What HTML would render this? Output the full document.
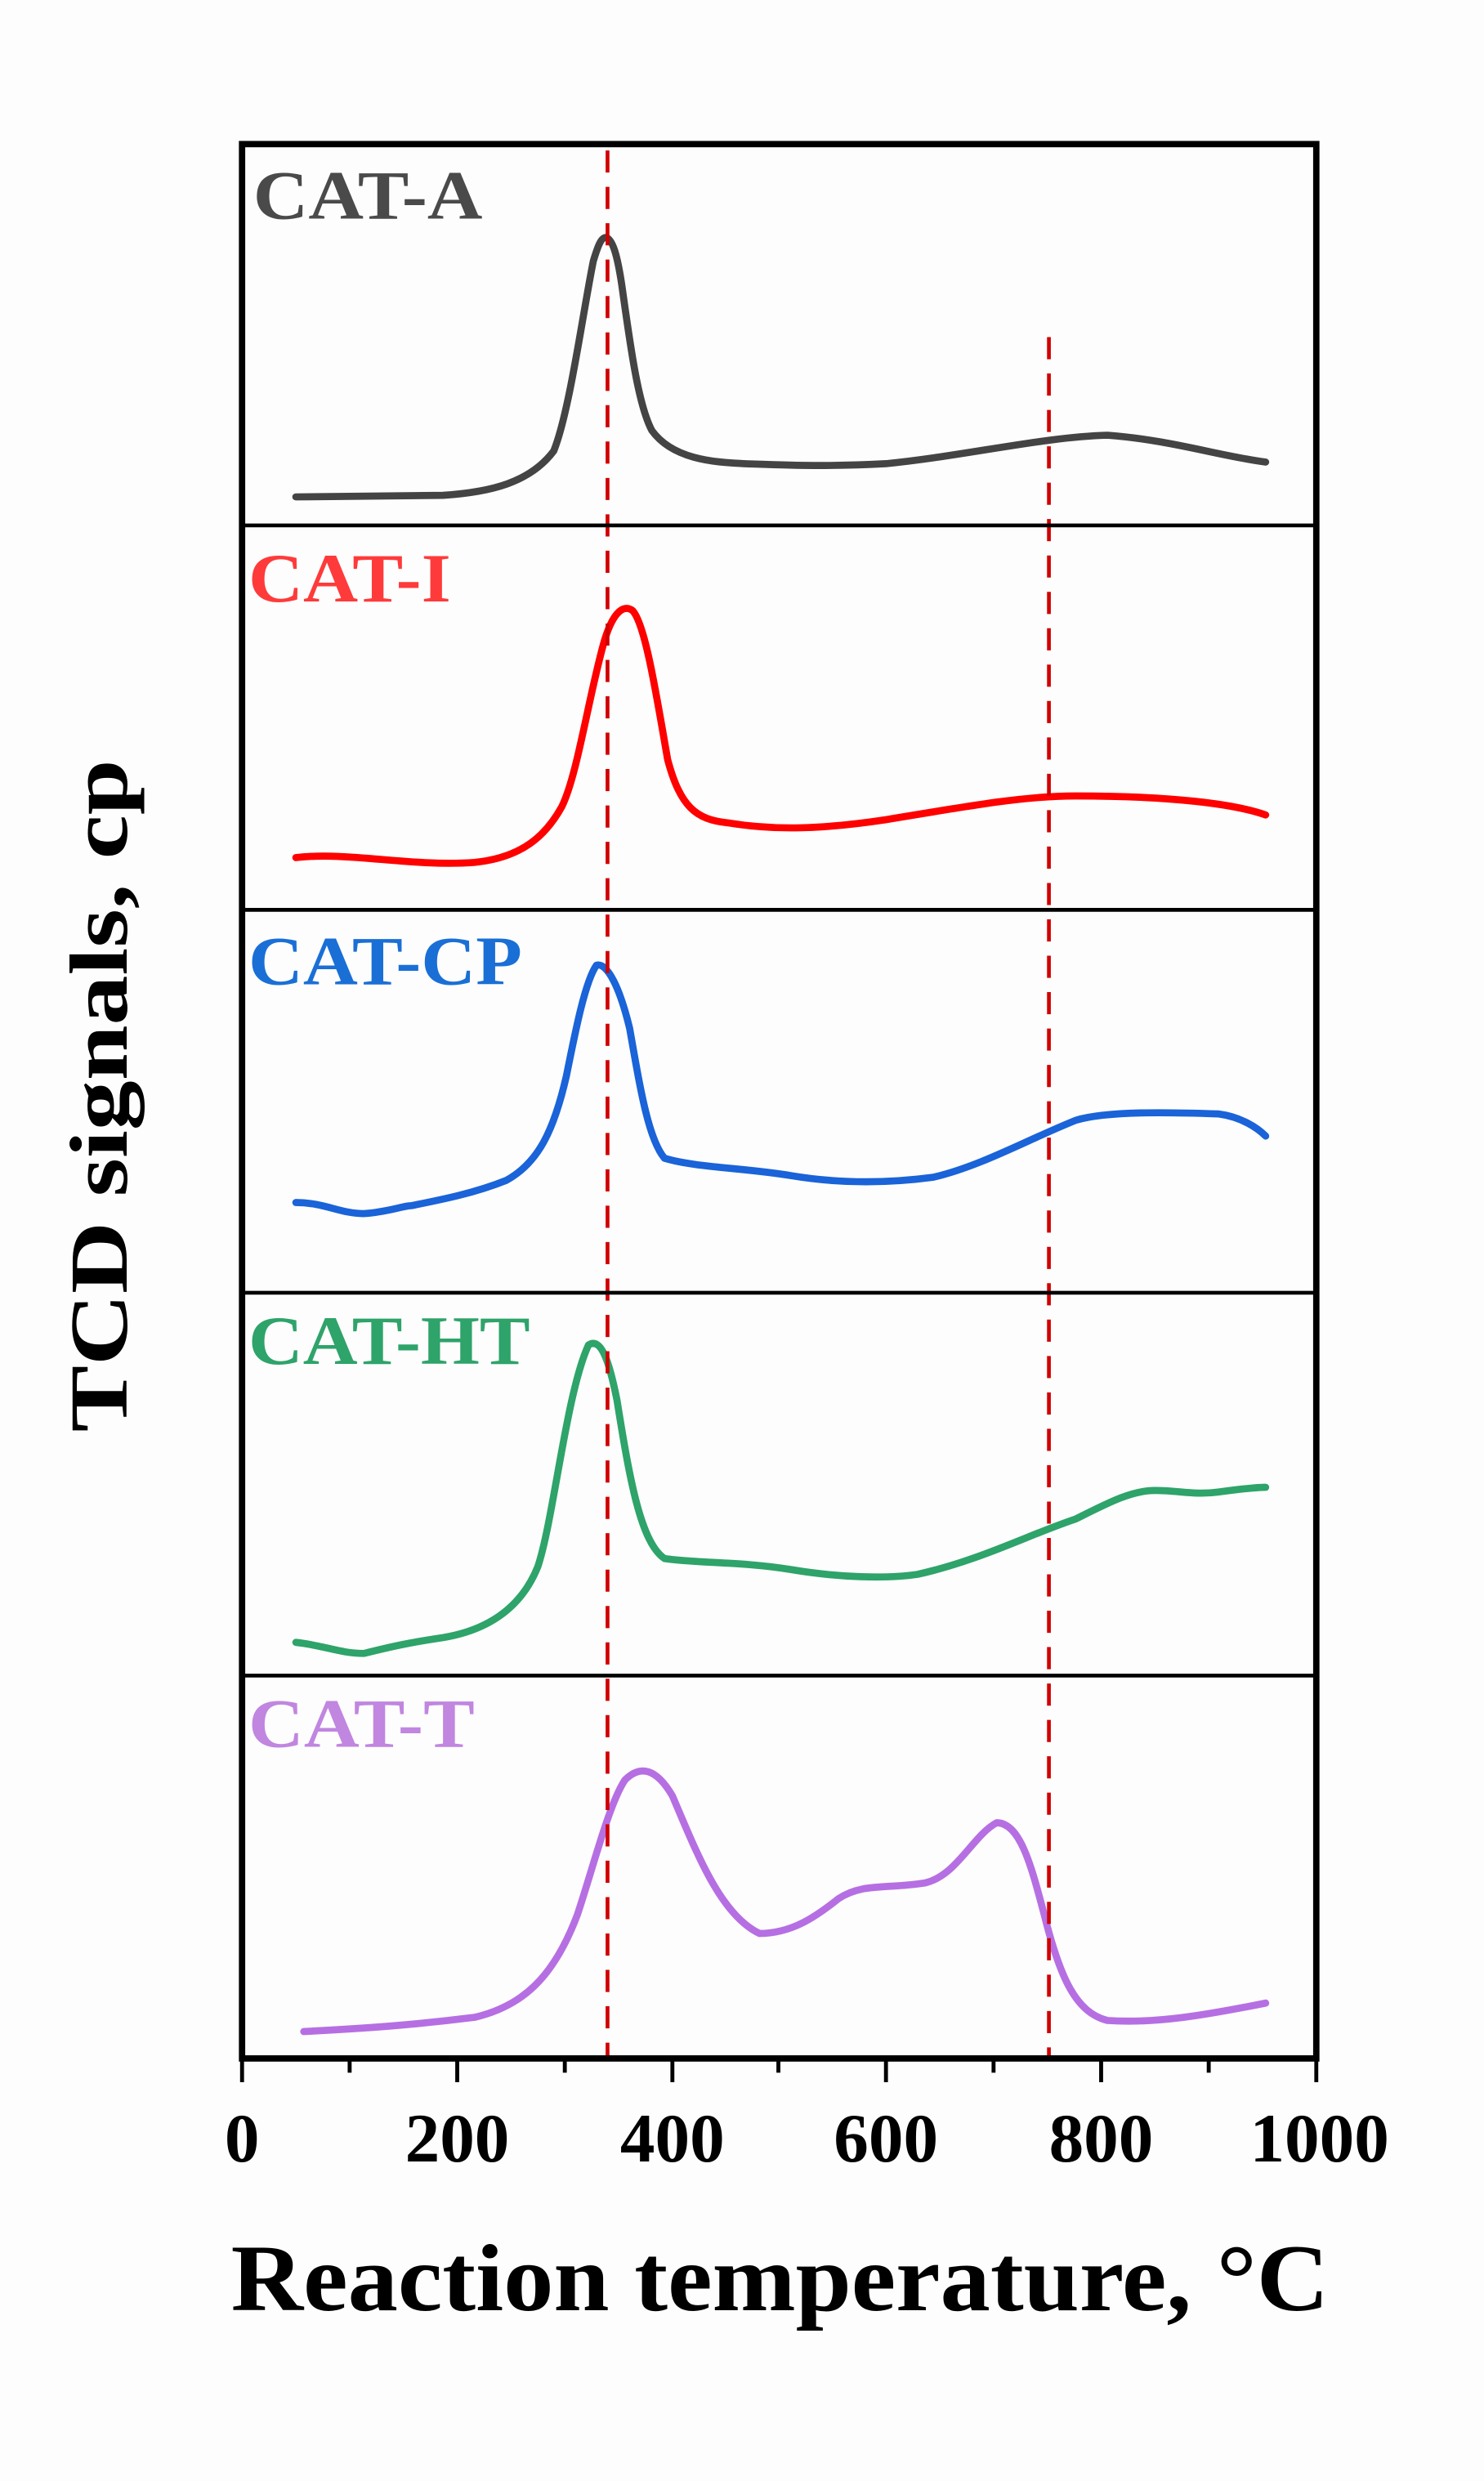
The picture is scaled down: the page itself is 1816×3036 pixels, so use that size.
<!DOCTYPE html>
<html><head><meta charset="utf-8"><style>html,body{margin:0;padding:0;background:#fff}svg{display:block}</style></head>
<body>
<svg width="1816" height="3036" viewBox="0 0 938 1568" xmlns="http://www.w3.org/2000/svg">
<rect width="938" height="1568" fill="#fdfdfd"/>
<g fill="none" stroke-linejoin="round" stroke-linecap="round" stroke-width="4.5">
<path stroke="#444" d="M187,314 L280,313 C310,311 335,305 350,285 C360,260 368,200 375,165 C378,155 380,150 383,150 C387,151 390,160 393,180 C398,215 403,255 412,272 C425,290 450,292 470,293 C500,294 520,295 560,293 C610,288 660,276 700,275 C740,278 770,288 800,292"/>
<path stroke="#f00" d="M187,542 C220,538 260,548 300,545 C330,542 345,528 355,510 C365,490 372,440 382,405 C388,385 395,382 400,386 C408,395 415,440 422,480 C430,510 440,518 460,520 C490,525 520,524 560,518 C620,508 650,503 680,503 C740,503 780,508 800,515"/>
<path stroke="#1a63d8" d="M187,760 C205,760 215,767 230,767 C245,766 255,762 260,762 C280,758 300,754 320,746 C340,735 350,715 358,680 C364,650 370,620 377,610 C384,608 392,625 398,650 C405,690 410,720 420,732 C440,738 470,738 500,743 C530,748 560,748 590,744 C620,737 650,720 680,708 C700,702 740,703 770,704 C785,706 795,713 800,718"/>
<path stroke="#2ea36a" d="M187,1038 C205,1040 215,1045 230,1045 C250,1040 260,1038 280,1035 C310,1030 330,1015 340,990 C350,960 358,880 372,850 C380,845 385,860 390,885 C398,935 405,975 420,985 C440,988 470,987 500,992 C530,997 560,998 580,995 C620,986 650,970 680,960 C700,950 715,942 730,942 C745,942 755,945 770,943 C785,941 795,940 800,940"/>
<path stroke="#b66fe2" d="M192,1284 C230,1282 260,1280 300,1275 C330,1268 350,1250 365,1210 C375,1180 385,1140 395,1125 C405,1115 415,1118 425,1135 C440,1170 455,1210 480,1222 C500,1222 515,1212 530,1200 C545,1190 560,1194 585,1190 C605,1185 615,1160 630,1152 C645,1152 652,1180 660,1210 C670,1250 680,1272 700,1277 C730,1279 760,1274 800,1266"/>
</g>
<g stroke="#d10000" stroke-width="2.4" stroke-dasharray="14,9">
<line x1="384" y1="95" x2="384" y2="1300"/>
<line x1="663" y1="213" x2="663" y2="1300"/>
</g>
<g stroke="#000" stroke-width="2.4">
<line x1="153" y1="332" x2="832" y2="332"/>
<line x1="153" y1="575" x2="832" y2="575"/>
<line x1="153" y1="817" x2="832" y2="817"/>
<line x1="153" y1="1059" x2="832" y2="1059"/>
</g>
<rect x="153" y="91" width="679" height="1210" fill="none" stroke="#000" stroke-width="4"/>
<g stroke="#000" stroke-width="2.5">
<line x1="153" y1="1301" x2="153" y2="1316"/><line x1="221" y1="1301" x2="221" y2="1310"/>
<line x1="289" y1="1301" x2="289" y2="1316"/><line x1="357" y1="1301" x2="357" y2="1310"/>
<line x1="425" y1="1301" x2="425" y2="1316"/><line x1="492" y1="1301" x2="492" y2="1310"/>
<line x1="560" y1="1301" x2="560" y2="1316"/><line x1="628" y1="1301" x2="628" y2="1310"/>
<line x1="696" y1="1301" x2="696" y2="1316"/><line x1="764" y1="1301" x2="764" y2="1310"/>
<line x1="832" y1="1301" x2="832" y2="1316"/>
</g>
<g font-family="Liberation Serif, serif" font-weight="bold" font-size="44" lengthAdjust="spacingAndGlyphs">
<text x="160" y="138" fill="#4a4a4a" textLength="145" lengthAdjust="spacingAndGlyphs">CAT-A</text>
<text x="157" y="380" fill="#ff3a3a" textLength="128" lengthAdjust="spacingAndGlyphs">CAT-I</text>
<text x="157" y="622" fill="#1a6fd6" textLength="173" lengthAdjust="spacingAndGlyphs">CAT-CP</text>
<text x="157" y="862" fill="#2ea36a" textLength="178" lengthAdjust="spacingAndGlyphs">CAT-HT</text>
<text x="157" y="1104" fill="#c086e0" textLength="143" lengthAdjust="spacingAndGlyphs">CAT-T</text>
</g>
<g font-family="Liberation Serif, serif" font-weight="bold" font-size="44" text-anchor="middle" fill="#000">
<text x="153" y="1366">0</text><text x="289" y="1366">200</text><text x="425" y="1366">400</text>
<text x="560" y="1366">600</text><text x="696" y="1366">800</text><text x="834" y="1366">1000</text>
</g>
<text x="146" y="1460" font-family="Liberation Serif, serif" font-weight="bold" font-size="60" textLength="694" lengthAdjust="spacingAndGlyphs" fill="#000">Reaction temperature, °C</text>
<text transform="translate(80,905) rotate(-90)" x="0" y="0" font-family="Liberation Serif, serif" font-weight="bold" font-size="52" textLength="425" lengthAdjust="spacingAndGlyphs" fill="#000">TCD signals, cp</text>
</svg>
</body></html>
